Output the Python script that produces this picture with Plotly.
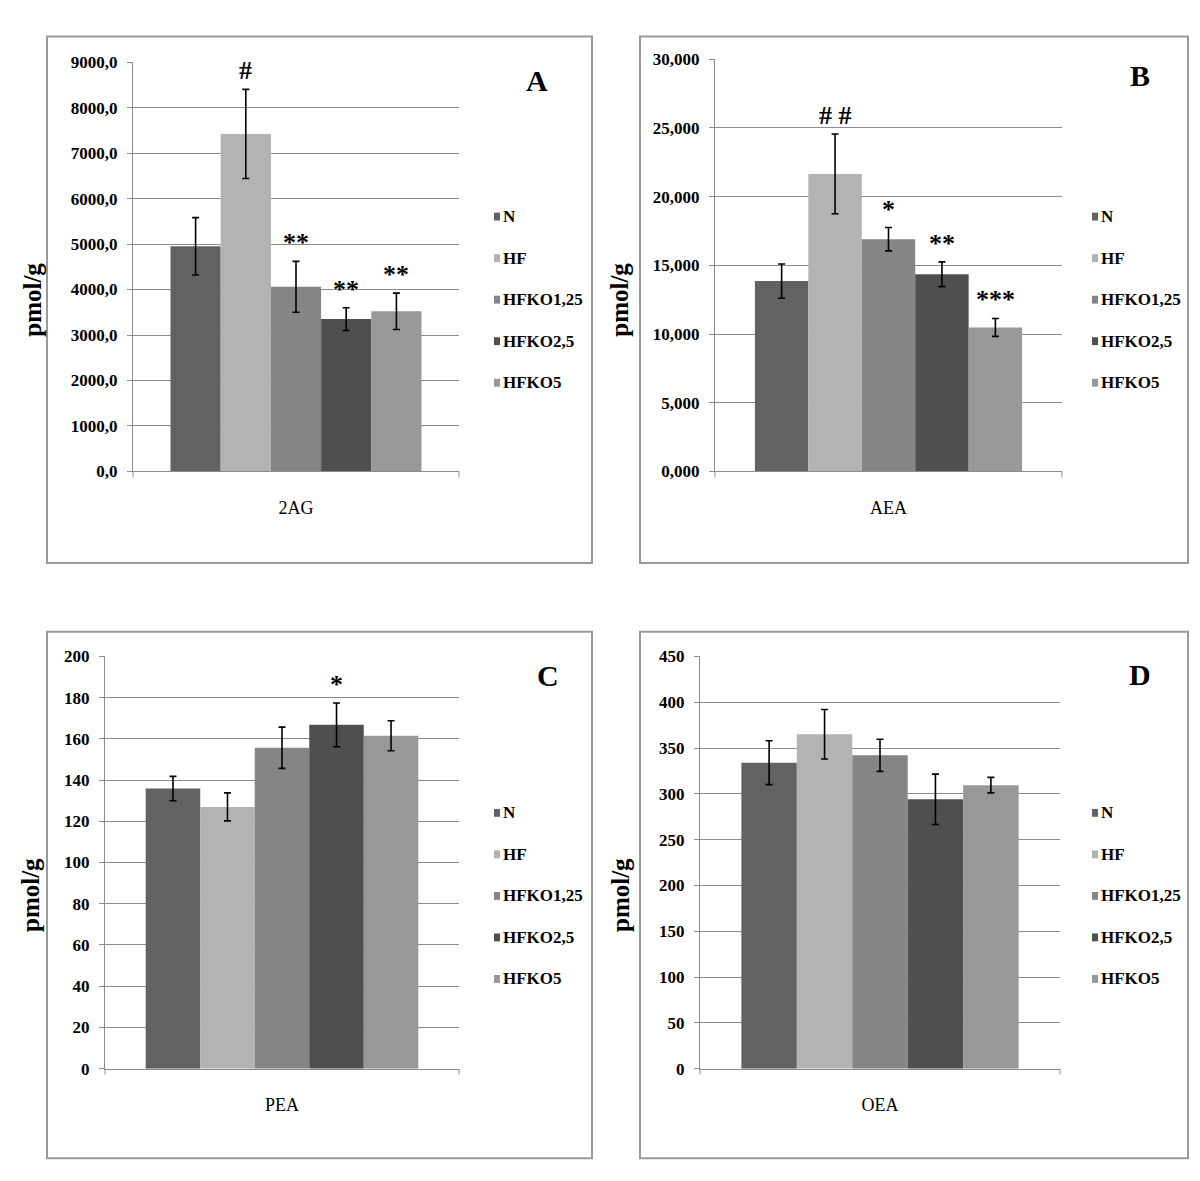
import plotly.graph_objects as go

# ---------------- data ----------------
groups = ["N", "HF", "HFKO1,25", "HFKO2,5", "HFKO5"]
analytes = ["2AG", "AEA", "PEA", "OEA"]
panel_letters = ["A", "B", "C", "D"]

vals_2AG = [4950, 7420, 4060, 3350, 3520]
err_2AG = [630, 980, 560, 250, 400]
vals_AEA = [13850, 21650, 16900, 14350, 10480]
err_AEA = [1250, 2900, 850, 900, 650]
vals_PEA = [135.9, 127.0, 155.7, 166.8, 161.5]
err_PEA = [5.9, 6.8, 10.0, 10.6, 7.3]
vals_OEA = [334, 365, 342, 294, 309.5]
err_OEA = [24, 27, 17.5, 27.5, 8.5]

sig_2AG = ["", "#", "**", "**", "**"]
sig_AEA = ["", "# #", "*", "**", "***"]
sig_PEA = ["", "", "", "*", ""]
sig_OEA = ["", "", "", "", ""]

ytick_2AG = [0, 1000, 2000, 3000, 4000, 5000, 6000, 7000, 8000, 9000]
ytext_2AG = ["0,0", "1000,0", "2000,0", "3000,0", "4000,0", "5000,0", "6000,0", "7000,0", "8000,0", "9000,0"]
ytick_AEA = [0, 5000, 10000, 15000, 20000, 25000, 30000]
ytext_AEA = ["0,000", "5,000", "10,000", "15,000", "20,000", "25,000", "30,000"]
ytick_PEA = [0, 20, 40, 60, 80, 100, 120, 140, 160, 180, 200]
ytext_PEA = [str(v) for v in ytick_PEA]
ytick_OEA = [0, 50, 100, 150, 200, 250, 300, 350, 400, 450]
ytext_OEA = [str(v) for v in ytick_OEA]

y_title = "pmol/g"

# ---------------- styling / layout ----------------
W, H = 1200, 1181
colors = ["#626262", "#b3b3b3", "#858585", "#4f4f4f", "#989898"]
grid_col = "#8c8c8c"
frame_col = "#9a9a9a"
FONT = "Liberation Serif"
GAP = 0.23  # gap fraction of category width

def px(x):
    return x / W

def py(y):
    return 1 - y / H

panels = [
    dict(vals=vals_2AG, err=err_2AG, sig=sig_2AG, tv=ytick_2AG, tt=ytext_2AG,
         frame=(47, 28, 592, 563), plot=(133, 54, 459, 470), legx=494, legy=211, letter=(537, 73), ytit=33),
    dict(vals=vals_AEA, err=err_AEA, sig=sig_AEA, tv=ytick_AEA, tt=ytext_AEA,
         frame=(640, 28, 1188, 563), plot=(715, 51, 1062, 470), legx=1092, legy=211, letter=(1140, 68), ytit=620),
    dict(vals=vals_PEA, err=err_PEA, sig=sig_PEA, tv=ytick_PEA, tt=ytext_PEA,
         frame=(47, 633, 592, 1168), plot=(105, 658, 459, 1077), legx=494, legy=817, letter=(548, 677), ytit=30),
    dict(vals=vals_OEA, err=err_OEA, sig=sig_OEA, tv=ytick_OEA, tt=ytext_OEA,
         frame=(640, 633, 1188, 1168), plot=(700, 658, 1060, 1077), legx=1092, legy=817, letter=(1140, 676), ytit=620),
]

fig = go.Figure()
shapes = []
annotations = []
n = len(groups)
g = (GAP / 2) * n / (1 - GAP)
xr = [-0.5 - g, n - 0.5 + g]

for k, p in enumerate(panels):
    sfx = "" if k == 0 else str(k + 1)
    xa, ya = "x" + sfx, "y" + sfx
    x0, y0, x1, y1 = p["plot"]
    fx0, fy0, fx1, fy1 = p["frame"]
    # frame
    shapes.append(dict(type="rect", xref="paper", yref="paper",
                       x0=px(fx0), x1=px(fx1), y0=py(fy1), y1=py(fy0),
                       line=dict(color=frame_col, width=2), fillcolor="rgba(0,0,0,0)", layer="below"))
    for i, name in enumerate(groups):
        fig.add_trace(go.Bar(
            x=[i], y=[p["vals"][i]], width=1, name=name,
            marker=dict(color=colors[i], line=dict(width=0)),
            error_y=dict(type="data", array=[p["err"][i]], visible=True,
                         color="black", thickness=1.6, width=3.5),
            xaxis=xa, yaxis=ya, showlegend=False))
        if p["sig"][i]:
            annotations.append(dict(x=i, y=p["vals"][i] + p["err"][i], xref=xa, yref=ya,
                                    text=p["sig"][i], showarrow=False, yanchor="bottom",
                                    yshift=2, font=dict(family=FONT, size=26, color="#000000", weight="bold")))
    fig.layout["xaxis" + sfx] = dict(
        domain=[px(x0), px(x1)], range=xr, anchor=ya,
        tickvals=[(n - 1) / 2], ticktext=[analytes[k]], ticks="", showgrid=False,
        showline=True, linecolor=grid_col, linewidth=1, zeroline=False,
        tickfont=dict(family=FONT, size=18, color="black"), ticklabelstandoff=20,
        fixedrange=True)
    fig.layout["yaxis" + sfx] = dict(
        domain=[py(y1), py(y0)], range=[0, p["tv"][-1]], anchor=xa,
        tickvals=p["tv"], ticktext=p["tt"], ticks="outside", ticklen=5, tickcolor=grid_col,
        showgrid=True, gridcolor=grid_col, gridwidth=1, showline=True, linecolor=grid_col,
        zeroline=False, tickfont=dict(family=FONT, size=17, color="black", weight="bold"),
        ticklabelstandoff=6, fixedrange=True)
    # category boundary ticks at the ends of the x axis
    for xd in (0, 1):
        shapes.append(dict(type="line", xref=xa + " domain", yref=ya + " domain",
                           x0=xd, x1=xd, y0=0, y1=-6 / (y1 - y0),
                           line=dict(color=grid_col, width=1)))
    # legend (swatch + label)
    for i, name in enumerate(groups):
        yc = p["legy"] + i * 42.2
        shapes.append(dict(type="rect", xref="paper", yref="paper",
                           x0=px(p["legx"]), x1=px(p["legx"] + 6), y0=py(yc + 4), y1=py(yc - 4),
                           fillcolor=colors[i], line=dict(width=0)))
        annotations.append(dict(x=px(p["legx"] + 7), y=py(yc), xref="paper", yref="paper",
                                text=name, showarrow=False, xanchor="left", yanchor="middle",
                                font=dict(family=FONT, size=17, color="black", weight="bold")))
    # panel letter
    annotations.append(dict(x=px(p["letter"][0]), y=py(p["letter"][1]), xref="paper", yref="paper",
                            text=panel_letters[k], showarrow=False, xanchor="center", yanchor="middle",
                            font=dict(family=FONT, size=30, color="black", weight="bold")))
    # y-axis title
    annotations.append(dict(x=px(p["ytit"]), y=py((fy0 + fy1) / 2), xref="paper", yref="paper",
                            text=y_title, textangle=-90, showarrow=False,
                            xanchor="center", yanchor="middle",
                            font=dict(family=FONT, size=25, color="black", weight="bold")))

fig.update_layout(
    width=W, height=H, margin=dict(l=0, r=0, t=0, b=0),
    paper_bgcolor="white", plot_bgcolor="white",
    barmode="overlay", showlegend=False,
    shapes=shapes, annotations=annotations,
)

fig.write_html("out.html", config=dict(displayModeBar=False),
               post_script="document.body.style.margin='0';document.body.style.overflow='hidden';")
